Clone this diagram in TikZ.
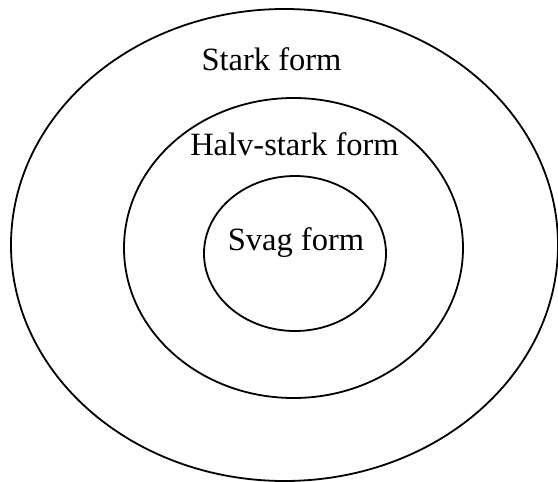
\documentclass[tikz,border=0pt]{standalone}
\usepackage{fontspec}
\setmainfont{Liberation Serif}
\tikzset{
  ring/.style={draw=black,line width=1.8pt},
  lbl/.style={font=\fontsize{32.5}{38}\selectfont,anchor=base,inner sep=0pt},
}
\begin{document}
\begin{tikzpicture}[x=1pt,y=-1pt]
\useasboundingbox (0,0) rectangle (558,482);
\draw[ring] (284.5,245) ellipse [x radius=273.5,y radius=236];
\draw[ring] (293.5,248) ellipse [x radius=169.5,y radius=150];
\draw[ring] (295,253.5) ellipse [x radius=91,y radius=77.5];
\node[lbl] (stark) at (271.5,70.5) {Stark form};
\node[lbl] (halv) at (294.5,155) {Halv-stark form};
\node[lbl] (svag) at (296,250) {Svag form};
\end{tikzpicture}
\end{document}
